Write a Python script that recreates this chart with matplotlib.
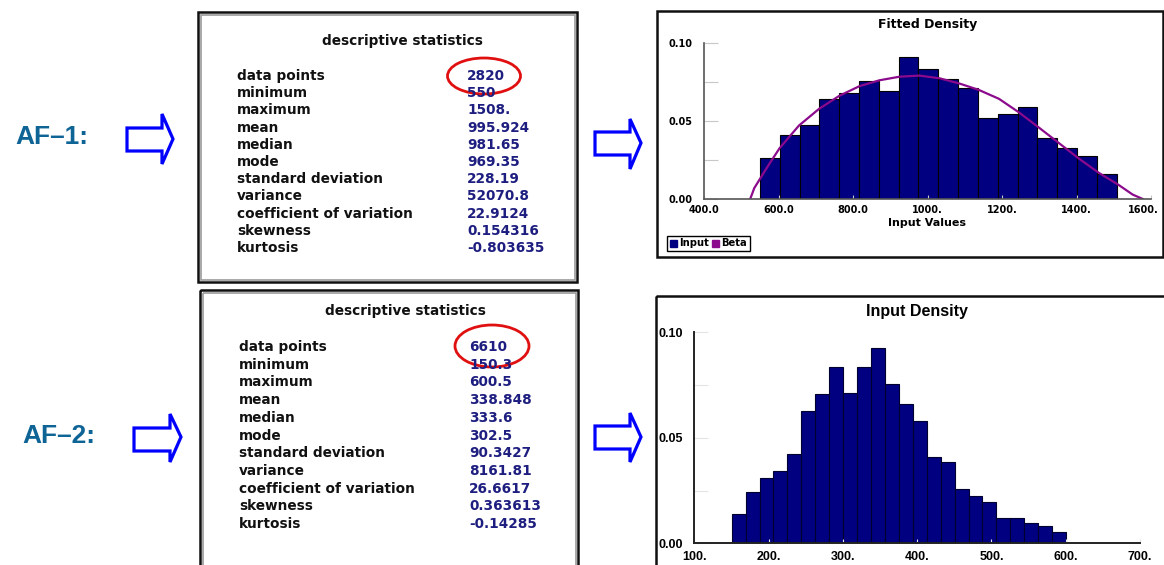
import matplotlib
matplotlib.use('Agg')
import matplotlib.pyplot as plt
from matplotlib.patches import Rectangle, Ellipse, Polygon, Patch
from matplotlib.transforms import ScaledTranslation
import numpy as np

W, H = 1164, 565
navy = '#000080'
purple = '#8c0a8c'
val_color = '#1e1e80'
af_color = '#0f6496'

# --- descriptive statistics -------------------------------------------------
stat_labels = ['data points', 'minimum', 'maximum', 'mean', 'median', 'mode',
               'standard deviation', 'variance', 'coefficient of variation',
               'skewness', 'kurtosis']
af1_values = ['2820', '550', '1508.', '995.924', '981.65', '969.35',
              '228.19', '52070.8', '22.9124', '0.154316', '-0.803635']
af2_values = ['6610', '150.3', '600.5', '338.848', '333.6', '302.5',
              '90.3427', '8161.81', '26.6617', '0.363613', '-0.14285']

# --- AF-1 histogram (fitted density) ----------------------------------------
af1_min, af1_max = 550, 1508
af1_density = [0.0262, 0.0409, 0.0475, 0.0642, 0.0682, 0.0757, 0.0693, 0.0910,
               0.0832, 0.0768, 0.0714, 0.0518, 0.0546, 0.0588, 0.0388, 0.0324,
               0.0277, 0.0160]
# fitted beta curve
beta_x = [524, 535, 549, 571, 603, 655, 709, 763, 817, 871, 925, 978, 1032,
          1086, 1138, 1192, 1245, 1299, 1353, 1407, 1461, 1512, 1551, 1578]
beta_y = [0.0, 0.0070, 0.0124, 0.0209, 0.0326, 0.0471, 0.0578, 0.0661, 0.0723,
          0.0761, 0.0784, 0.0791, 0.0774, 0.0740, 0.0699, 0.0642, 0.0556,
          0.0458, 0.0358, 0.0258, 0.0166, 0.0092, 0.0028, 0.0]
af1_xticks = [400, 600, 800, 1000, 1200, 1400, 1600]
af1_xticklabels = ['400.0', '600.0', '800.0', '1000.', '1200.', '1400.', '1600.']

# --- AF-2 histogram (input density) -----------------------------------------
af2_min, af2_max = 150.3, 600.5
af2_density = [0.0137, 0.0245, 0.0311, 0.0344, 0.0422, 0.0626, 0.0708, 0.0837,
               0.0711, 0.0837, 0.0924, 0.0754, 0.0662, 0.0580, 0.0408, 0.0384,
               0.0258, 0.0224, 0.0196, 0.0118, 0.0122, 0.0095, 0.0084, 0.0052]
af2_xticks = [100, 200, 300, 400, 500, 600, 700]
af2_xticklabels = ['100.', '200.', '300.', '400.', '500.', '600.', '700.']

ytick_vals = [0, 0.025, 0.05, 0.075, 0.10]
ytick_labels = ['0.00', '', '0.05', '', '0.10']


def fig_rect(x0, y0, x1, y1):
    """pixel box (top-left origin) -> figure fraction rect"""
    return [x0 / W, 1 - y1 / H, (x1 - x0) / W, (y1 - y0) / H]


fig = plt.figure(figsize=(W / 100, H / 100), dpi=100)
fig.patch.set_facecolor('white')

bg = fig.add_axes([0, 0, 1, 1], zorder=0)
bg.set_xlim(0, W)
bg.set_ylim(H, 0)
bg.axis('off')


def framed_box(x0, y0, x1, y1, inner=True):
    bg.add_patch(Rectangle((x0, y0), x1 - x0, y1 - y0, fill=False,
                           ec='#101010', lw=1.8))
    if inner:
        bg.add_patch(Rectangle((x0 + 2.5, y0 + 2.5), x1 - x0 - 5, y1 - y0 - 5,
                               fill=False, ec='#9a9a9a', lw=1.2))


def hollow_arrow(x0, xh, xt, y1, y2, yh1, yh2, yc):
    pts = [(x0, y1), (xh, y1), (xh, yh1), (xt, yc), (xh, yh2), (xh, y2), (x0, y2)]
    bg.add_patch(Polygon(pts, closed=True, fill=False, ec='#0000ff', lw=2.3,
                         joinstyle='miter'))


def stats_block(x_lab, x_val, y_first, dy, y_title, x_title, values):
    bg.text(x_title, y_title, 'descriptive statistics', ha='center', va='center',
            fontsize=9.8, fontweight='bold', color='#111111', family='DejaVu Sans')
    for i, (lab, val) in enumerate(zip(stat_labels, values)):
        y = y_first + i * dy
        bg.text(x_lab, y, lab, ha='left', va='center', fontsize=9.8,
                fontweight='bold', color='#111111', family='DejaVu Sans')
        bg.text(x_val, y, val, ha='left', va='center', fontsize=9.8,
                fontweight='bold', color=val_color, family='DejaVu Sans')


# stats boxes
framed_box(198, 12, 577, 282)
framed_box(200, 290, 578, 575)
stats_block(237, 467, 76, 17.2, 41, 402, af1_values)
stats_block(239, 469, 347, 17.7, 311, 405, af2_values)
bg.add_patch(Ellipse((484, 76), 73, 36, fill=False, ec='#e01010', lw=2))
bg.add_patch(Ellipse((492, 346), 74, 42, fill=False, ec='#e01010', lw=2))

# chart frames
bg.add_patch(Rectangle((657, 11), 506, 246, fill=False, ec='#101010', lw=1.8))
bg.add_patch(Rectangle((656, 296), 520, 280, fill=False, ec='#101010', lw=1.8))

# left labels and arrows
bg.text(15, 137, 'AF–1:', ha='left', va='center', fontsize=19,
        fontweight='bold', color=af_color, family='Liberation Sans')
bg.text(22, 436, 'AF–2:', ha='left', va='center', fontsize=19,
        fontweight='bold', color=af_color, family='Liberation Sans')
hollow_arrow(127, 162, 173, 128, 151, 114, 164, 139)
hollow_arrow(134, 170, 181, 428, 451, 414, 462, 437)
hollow_arrow(595, 630, 641, 132, 155, 119, 169, 143)
hollow_arrow(595, 630, 641, 426, 449, 413, 462, 437)

# --- top chart -------------------------------------------------------------
ax1 = fig.add_axes(fig_rect(704, 43, 1151, 199), zorder=2)
ax1.set_facecolor('none')
edges1 = np.linspace(af1_min, af1_max, len(af1_density) + 1)
ax1.bar(edges1[:-1], af1_density, width=np.diff(edges1), align='edge',
        color=navy, edgecolor='black', lw=0.8, label='Input')
ax1.plot(beta_x, beta_y, color=purple, lw=1.6, label='Beta')
ax1.set_xlim(400, 1600)
ax1.set_ylim(0, 0.10)
for s in ('top', 'right'):
    ax1.spines[s].set_visible(False)
for s in ('left', 'bottom'):
    ax1.spines[s].set_color('#555555')
    ax1.spines[s].set_linewidth(1.2)
ax1.set_yticks(ytick_vals)
ax1.set_yticklabels(ytick_labels)
ax1.set_xticks(af1_xticks)
ax1.set_xticklabels(af1_xticklabels)
ax1.tick_params(axis='y', direction='in', length=10, color='#c8c8c8', pad=8.5,
                labelsize=7)
ax1.tick_params(axis='x', direction='in', length=3, color='#c8c8c8', pad=4.5,
                labelsize=7)
for t in ax1.get_xticklabels() + ax1.get_yticklabels():
    t.set_fontweight('bold')
# last label sits a little left of its tick, as in the source screenshot
last = ax1.get_xticklabels()[-1]
last.set_transform(last.get_transform() +
                   ScaledTranslation(-0.08, 0, fig.dpi_scale_trans))
ax1.set_title('Fitted Density', fontsize=9, fontweight='bold', pad=11)
ax1.set_xlabel('Input Values', fontsize=8, fontweight='bold', labelpad=2)
ax1.legend(handles=[Patch(color=navy, label='Input'),
                    Patch(color=purple, label='Beta')],
           loc='lower left', bbox_to_anchor=(667 / W, 1 - 251 / H),
           bbox_transform=fig.transFigure, ncol=2, fancybox=False,
           edgecolor='black', framealpha=1, borderaxespad=0, borderpad=0.25,
           handlelength=0.7, handleheight=0.7, handletextpad=0.25,
           columnspacing=0.3, prop={'size': 7.2, 'weight': 'bold'})

# --- bottom chart ----------------------------------------------------------
ax2 = fig.add_axes(fig_rect(694.3, 332.3, 1140, 543.3), zorder=2)
ax2.set_facecolor('none')
edges2 = np.linspace(af2_min, af2_max, len(af2_density) + 1)
ax2.bar(edges2[:-1], af2_density, width=np.diff(edges2), align='edge',
        color=navy, edgecolor='#000030', lw=0.8)
ax2.set_xlim(100, 700)
ax2.set_ylim(0, 0.10)
for s in ('top', 'right'):
    ax2.spines[s].set_visible(False)
for s in ('left', 'bottom'):
    ax2.spines[s].set_color('#222222')
    ax2.spines[s].set_linewidth(1.4)
ax2.set_yticks(ytick_vals)
ax2.set_yticklabels(ytick_labels)
ax2.set_xticks(af2_xticks)
ax2.set_xticklabels(af2_xticklabels)
ax2.tick_params(axis='y', direction='in', length=10, color='#e4e4e4', pad=8,
                labelsize=9)
ax2.tick_params(axis='x', direction='in', length=3, color='#e4e4e4', pad=5.5,
                labelsize=9)
for t in ax2.get_xticklabels() + ax2.get_yticklabels():
    t.set_fontweight('bold')
    t.set_family('Liberation Sans')
ax2.set_title('Input Density', fontsize=11.5, fontweight='bold', pad=12,
              family='Liberation Sans')

fig.savefig('out.png', dpi=100)
